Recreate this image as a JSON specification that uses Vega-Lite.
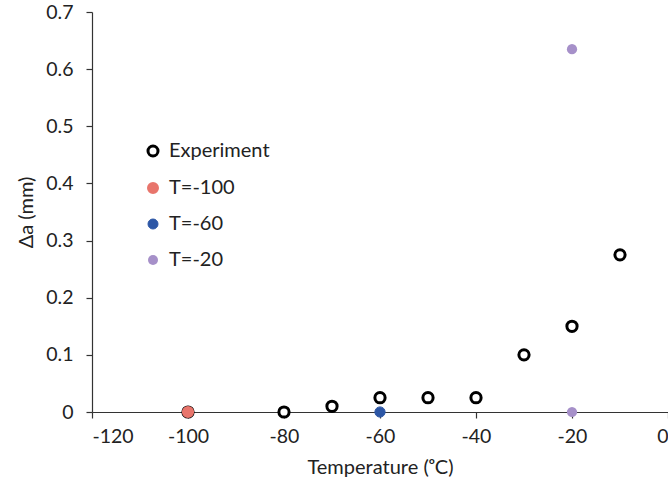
{
  "$schema": "https://vega.github.io/schema/vega-lite/v6.json",
  "width": 576,
  "height": 400,
  "autosize": {"type": "none"},
  "padding": {"left": 92, "top": 12, "right": 0, "bottom": 72},
  "background": "white",
  "config": {
    "view": {"stroke": null},
    "font": "Lato",
    "axis": {"grid": false, "domainColor": "#333", "tickColor": "#333", "labelColor": "#222", "titleColor": "#222", "labelFontSize": 19.5, "titleFontSize": 20, "titleFontWeight": "normal", "labelFont": "Lato", "titleFont": "Lato", "tickSize": 6, "domainWidth": 1.2, "tickWidth": 1.2}
  },
  "data": {
    "values": [
      {"t": -100, "da": 0, "series": "Experiment"},
      {"t": -80, "da": 0, "series": "Experiment"},
      {"t": -70, "da": 0.01, "series": "Experiment"},
      {"t": -60, "da": 0.025, "series": "Experiment"},
      {"t": -50, "da": 0.025, "series": "Experiment"},
      {"t": -40, "da": 0.025, "series": "Experiment"},
      {"t": -30, "da": 0.1, "series": "Experiment"},
      {"t": -20, "da": 0.15, "series": "Experiment"},
      {"t": -10, "da": 0.275, "series": "Experiment"},
      {"t": -100, "da": 0, "series": "T=-100"},
      {"t": -60, "da": 0, "series": "T=-60"},
      {"t": -20, "da": 0.635, "series": "T=-20"},
      {"t": -20, "da": 0, "series": "T=-20"}
    ]
  },
  "mark": {"type": "point", "shape": "circle", "filled": false, "size": 105, "opacity": 1},
  "encoding": {
    "x": {"field": "t", "type": "quantitative", "scale": {"domain": [-120, 0], "nice": false}, "axis": {"values": [-120, -100, -80, -60, -40, -20, 0], "labelExpr": "toString(datum.value)", "title": "Temperature (ᵒC)", "labelPadding": 9, "titlePadding": 12}},
    "y": {"field": "da", "type": "quantitative", "scale": {"domain": [0, 0.7], "nice": false}, "axis": {"values": [0, 0.1, 0.2, 0.3, 0.4, 0.5, 0.6, 0.7], "labelExpr": "toString(datum.value)", "title": "Δa (mm)", "labelPadding": 13, "titlePadding": 9}},
    "fill": {"field": "series", "type": "nominal", "scale": {"domain": ["Experiment", "T=-100", "T=-60", "T=-20"], "range": ["white", "#e8756c", "#2d57a6", "#a690c9"]},
      "legend": {"orient": "none", "legendX": 51, "legendY": 129, "title": null, "labelFontSize": 20, "labelFont": "Lato", "labelColor": "#222", "symbolSize": 100, "rowPadding": 16, "labelOffset": 6, "symbolType": "circle",
        "encode": {"symbols": {"update": {"strokeWidth": {"signal": "datum.value === 'Experiment' ? 3 : 0"}, "stroke": {"value": "black"}}}}}},
    "stroke": {"field": "series", "type": "nominal", "scale": {"domain": ["Experiment", "T=-100", "T=-60", "T=-20"], "range": ["black", "#e8756c", "#2d57a6", "#a690c9"]}, "legend": null},
    "strokeWidth": {"field": "series", "type": "nominal", "scale": {"domain": ["Experiment", "T=-100", "T=-60", "T=-20"], "range": [3, 0, 0, 0]}, "legend": null},
    "order": {"field": "series", "sort": "ascending"}
  }
}
